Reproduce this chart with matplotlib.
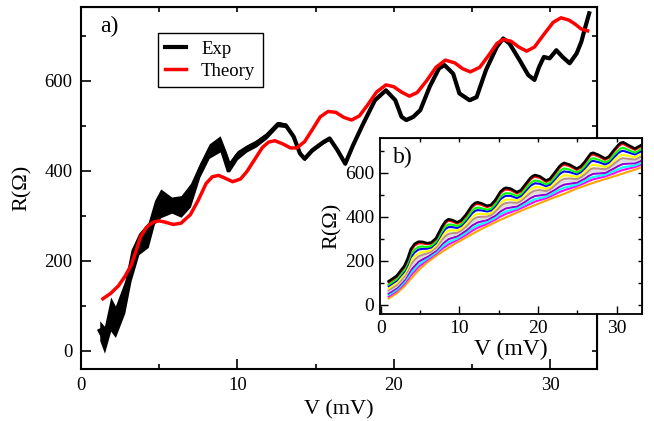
import numpy as np
import matplotlib
matplotlib.use("Agg")
import matplotlib.pyplot as plt
from matplotlib.ticker import MultipleLocator

plt.rcParams['font.family'] = ['Liberation Serif', 'DejaVu Serif']

# --- measured curve (main panel), centre line and noise half-width ---
exp_v = [1.2, 1.5, 1.9, 2.2, 2.8, 3.2, 3.7, 4.3, 4.7, 5.1, 5.8, 6.4, 7.0, 7.6, 8.2,
         8.9, 9.3, 9.5, 10.0, 10.6, 11.2, 11.9, 12.6, 13.1, 13.6, 14.0, 14.3, 14.8,
         15.5, 15.9, 16.4, 16.9, 17.4, 18.05, 18.8, 19.5, 20.1, 20.5, 20.8, 21.25,
         21.7, 22.3, 22.9, 23.25, 23.8, 24.2, 24.85, 25.3, 25.9, 26.6, 27.0, 27.4,
         28.05, 28.6, 29.0, 29.3, 29.6, 29.97, 30.4, 30.8, 31.25, 31.7, 32.0, 32.2, 32.5]
exp_r = [45, 25, 82, 65, 120, 190, 238, 258, 308, 328, 324, 321, 346, 402, 444,
         460, 420, 410, 435, 450, 461, 479, 504, 501, 476, 439, 427, 446,
         464, 472, 446, 416, 457, 505, 557, 579, 557, 520, 513, 520,
         535, 587, 628, 635, 616, 572, 557, 564, 624, 676, 694, 683,
         646, 613, 602, 631, 653, 650, 668, 653, 639, 661, 687, 713, 750]
exp_noise = [22, 30, 38, 35, 36, 35, 24, 28, 26, 32, 18, 24, 26, 16, 16,
             18, 22, 12, 10, 8, 8, 7, 6, 5, 5, 5, 4, 4,
             4, 4, 4, 4, 4, 3, 3, 3, 3, 3, 3, 3,
             3, 3, 3, 3, 3, 3, 3, 3, 3, 3, 3, 3,
             3, 3, 3, 3, 3, 3, 3, 3, 3, 3, 3, 3, 3]

# --- theory curve (main panel) ---
th_v = [1.4, 1.9, 2.4, 2.8, 3.2, 3.5, 3.8, 4.2, 4.6, 5.0, 5.4, 5.9, 6.4, 7.0, 7.5,
        8.0, 8.4, 8.8, 9.2, 9.7, 10.2, 10.6, 11.1, 11.6, 12.0, 12.4, 12.9, 13.4,
        13.8, 14.3, 14.8, 15.3, 15.8, 16.3, 16.8, 17.3, 17.8, 18.3, 18.9, 19.5,
        20.0, 20.5, 21.0, 21.5, 22.1, 22.7, 23.3, 23.9, 24.4, 24.9, 25.5, 26.1,
        26.6, 27.0, 27.5, 28.0, 28.5, 29.0, 29.6, 30.2, 30.7, 31.2, 31.6, 32.0, 32.4]
th_r = [116, 128, 145, 165, 190, 220, 253, 275, 286, 289, 286, 281, 284, 303, 335,
        372, 387, 390, 384, 376, 382, 398, 425, 452, 464, 467, 460, 451,
        451, 465, 492, 520, 532, 530, 519, 513, 522, 545, 575, 591,
        587, 575, 566, 574, 600, 630, 646, 640, 627, 620, 630, 658,
        683, 692, 688, 675, 666, 675, 703, 730, 740, 735, 726, 715, 711]

# --- inset: strongly rippled curves (fine voltage grid) ---
in_v_fine = [1.0, 2.0, 3.0, 3.4, 3.8, 4.3, 4.8, 5.3, 5.9, 6.4, 7.0, 7.8, 8.2, 8.6, 9.1,
             9.7, 10.2, 10.8, 11.6, 12.0, 12.3, 12.8, 13.5, 14.0, 14.5, 15.2, 15.6,
             15.9, 16.5, 17.3, 17.8, 18.3, 19.0, 19.3, 19.6, 20.2, 21.0, 21.5, 22.0,
             22.7, 23.0, 23.3, 24.0, 24.9, 25.4, 25.9, 26.4, 26.7, 27.0, 27.7, 28.5,
             29.0, 29.6, 30.2, 30.5, 30.8, 31.5, 32.3, 33.0]
in_black = [108, 132, 178, 210, 253, 278, 288, 287, 281, 284, 303, 358, 380, 390, 386,
            376, 385, 410, 452, 464, 467, 462, 451, 455, 475, 515, 528,
            533, 529, 513, 522, 545, 577, 586, 591, 585, 566, 574, 597,
            630, 640, 646, 638, 620, 630, 650, 675, 689, 692, 682, 666,
            675, 703, 728, 737, 740, 726, 711, 725]
in_red = [103, 127, 172, 204, 245, 270, 280, 280, 276, 279, 298, 351, 372, 383, 379,
          370, 379, 404, 444, 456, 459, 455, 445, 450, 469, 508, 520,
          525, 522, 507, 516, 538, 569, 578, 583, 578, 560, 568, 590,
          622, 632, 638, 631, 614, 624, 644, 668, 681, 684, 675, 660,
          669, 696, 720, 729, 732, 719, 705, 719]
in_green = [93, 117, 160, 190, 228, 252, 264, 266, 263, 268, 287, 336, 357, 366, 365,
            358, 367, 390, 428, 440, 443, 440, 433, 437, 456, 492, 504,
            508, 507, 495, 504, 524, 553, 561, 566, 562, 548, 556, 576,
            606, 615, 621, 615, 602, 612, 630, 652, 664, 667, 660, 648,
            656, 681, 703, 712, 715, 704, 692, 706]
in_blue = [86, 110, 152, 180, 216, 239, 252, 255, 256, 261, 280, 326, 345, 354, 354,
           350, 359, 381, 416, 428, 431, 430, 425, 429, 447, 480, 491,
           496, 496, 486, 495, 514, 541, 548, 553, 551, 540, 547, 566,
           594, 602, 607, 604, 594, 603, 620, 640, 652, 655, 649, 639,
           647, 670, 691, 698, 701, 693, 684, 697]
in_yellow = [76, 99, 140, 166, 198, 221, 235, 241, 244, 251, 269, 311, 328, 338, 339,
             338, 347, 367, 399, 410, 414, 414, 412, 418, 434, 463, 474,
             478, 480, 474, 483, 500, 524, 531, 536, 535, 528, 535, 552,
             576, 584, 589, 588, 582, 591, 605, 624, 634, 637, 634, 627,
             635, 655, 673, 680, 683, 677, 671, 684]
in_brown = [67, 90, 130, 154, 183, 206, 221, 228, 235, 243, 260, 298, 313, 323, 326,
            328, 338, 356, 385, 395, 399, 401, 402, 408, 423, 449, 459,
            463, 466, 464, 473, 488, 509, 515, 520, 522, 518, 525, 540,
            561, 568, 573, 575, 572, 580, 593, 609, 618, 621, 620, 617,
            624, 641, 657, 664, 667, 664, 661, 673]

# --- inset: weakly rippled curves (coarse voltage grid) ---
in_v = [1.0, 2.0, 3.0, 3.8, 4.8, 5.9, 7.0, 7.8, 8.6, 9.7, 10.8, 11.6, 12.3, 13.5,
        14.5, 15.2, 15.9, 17.3, 18.3, 19.0, 19.6, 21.0, 22.0, 22.7, 23.3, 24.9,
        25.9, 26.4, 27.0, 28.5, 29.6, 30.2, 30.8, 32.3, 33.0]
in_grey = [61, 84, 122, 172, 210, 228, 254, 288, 312, 321, 348, 374, 388, 395, 415, 438, 452, 457,
           479, 498, 509, 511, 532, 550, 561, 565, 585, 599, 610, 610, 632, 646, 655, 653, 664]
in_violet = [53, 76, 113, 158, 197, 219, 246, 277, 299, 312, 337, 361, 375, 386, 405, 425, 439, 448,
             468, 485, 495, 502, 521, 537, 547, 556, 574, 586, 596, 600, 620, 632, 641, 644, 654]
in_cyan = [46, 68, 104, 145, 184, 211, 238, 265, 286, 302, 327, 348, 362, 377, 395, 413, 425, 439,
           457, 471, 481, 492, 510, 524, 533, 547, 563, 573, 582, 591, 608, 618, 626, 634, 644]
in_magenta = [39, 62, 96, 134, 173, 204, 232, 256, 275, 295, 318, 337, 351, 369, 387, 402, 414, 432,
              448, 460, 470, 485, 501, 513, 521, 540, 554, 563, 571, 584, 598, 607, 614, 627, 636]
in_orange = [30, 52, 85, 118, 158, 193, 222, 242, 260, 284, 306, 322, 336, 358, 375, 387, 398, 420,
             435, 445, 454, 474, 488, 497, 505, 529, 541, 548, 555, 572, 584, 591, 598, 615, 624]

inset_curves = [
    (in_v_fine, in_black, "#000000"), (in_v_fine, in_red, "#ff0000"),
    (in_v_fine, in_green, "#00ff00"), (in_v_fine, in_blue, "#0000ff"),
    (in_v_fine, in_yellow, "#ffff00"), (in_v_fine, in_brown, "#bc8f8f"),
    (in_v, in_grey, "#dcdcdc"), (in_v, in_violet, "#9400d3"),
    (in_v, in_cyan, "#00ffff"), (in_v, in_magenta, "#ff00ff"),
    (in_v, in_orange, "#ffa500"),
]

W, H = 654, 421
fig = plt.figure(figsize=(W / 100, H / 100), dpi=100)

# ---------------- main panel ----------------
ax = fig.add_axes([81 / W, 52 / H, 516 / W, 362 / H])
ev = np.array(exp_v)
er = np.array(exp_r)
en = np.array(exp_noise)
ax.fill_between(ev, er - en, er + en, color="black", lw=0)
ax.plot(ev, er, color="black", lw=3, label="Exp", solid_joinstyle="round")
ax.plot(th_v, th_r, color="red", lw=2.5, label="Theory")

ax.set_xlim(0, 33)
ax.set_ylim(-40, 764)
ax.xaxis.set_major_locator(MultipleLocator(10))
ax.xaxis.set_minor_locator(MultipleLocator(5))
ax.yaxis.set_major_locator(MultipleLocator(200))
ax.yaxis.set_minor_locator(MultipleLocator(100))
ax.tick_params(which="both", direction="in", width=1.2, labelsize=13.5)
ax.tick_params(which="major", length=7, pad=6)
ax.tick_params(which="minor", length=3.5)
for s in ax.spines.values():
    s.set_linewidth(1.5)

top = ax.secondary_xaxis("top")
top.set_xticks(np.arange(5, 33, 5))
top.tick_params(direction="in", length=3.5, width=1.2, labeltop=False)
right = ax.secondary_yaxis("right")
right.set_yticks(np.arange(0, 764, 100))
right.tick_params(direction="in", length=3.5, width=1.2, labelright=False)

ax.set_xlabel("V (mV)", fontsize=16, labelpad=4)
ax.set_ylabel("R(Ω)", fontsize=16, labelpad=9)
ax.text(0.037, 0.975, "a)", transform=ax.transAxes, fontsize=17, va="top", ha="left")

leg = ax.legend(loc="upper left", bbox_to_anchor=(0.149, 0.928), borderaxespad=0,
                fontsize=13.5, frameon=True, fancybox=False, framealpha=1,
                edgecolor="black", handlelength=1.1, handletextpad=0.8,
                labelspacing=0.25, borderpad=0.4)
leg.get_frame().set_linewidth(1.0)

# ---------------- inset ----------------
axi = fig.add_axes([380 / W, 107 / H, 262 / W, 176 / H])
axi.set_facecolor("white")
for xs, vals, col in reversed(inset_curves):
    axi.plot(xs, vals, color=col, lw=1.8 if col == "#000000" else 1.5)

axi.set_xlim(-0.1, 33.2)
axi.set_ylim(-41, 759)
axi.xaxis.set_major_locator(MultipleLocator(10))
axi.xaxis.set_minor_locator(MultipleLocator(5))
axi.yaxis.set_major_locator(MultipleLocator(200))
axi.yaxis.set_minor_locator(MultipleLocator(100))
axi.tick_params(which="both", direction="in", width=1.0, labelsize=14)
axi.tick_params(which="major", length=5.5, pad=4)
axi.tick_params(which="minor", length=3)
for s in axi.spines.values():
    s.set_linewidth(1.3)
itop = axi.secondary_xaxis("top")
itop.set_xticks(np.arange(5, 33, 5))
itop.tick_params(direction="in", length=3, width=1.0, labeltop=False)
iright = axi.secondary_yaxis("right")
iright.set_yticks(np.arange(0, 759, 100))
iright.tick_params(direction="in", length=3, width=1.0, labelright=False)

axi.set_xlabel("V (mV)", fontsize=17, labelpad=2)
axi.set_ylabel("R(Ω)", fontsize=16, labelpad=2)
axi.text(0.05, 0.95, "b)", transform=axi.transAxes, fontsize=17, va="top", ha="left")

fig.savefig("out.png", dpi=100)
